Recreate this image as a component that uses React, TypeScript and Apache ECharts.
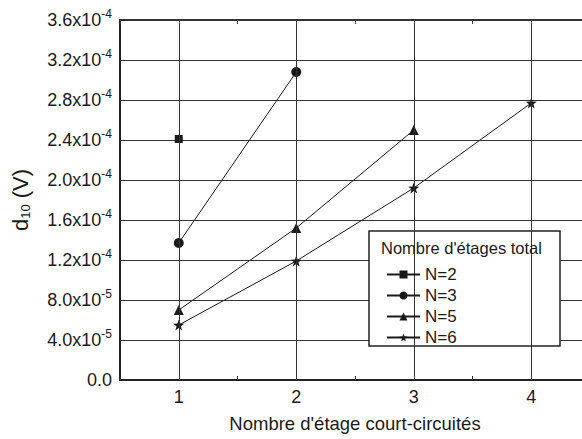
import React, { useEffect, useRef } from "react";
import * as echarts from "echarts";

const xValues = [1, 2, 3, 4];
const seriesNames = ["N=2", "N=3", "N=5", "N=6"];
const n2 = [2.41e-4];
const n3 = [1.37e-4, 3.08e-4];
const n5 = [0.7e-4, 1.52e-4, 2.5e-4];
const n6 = [0.55e-4, 1.19e-4, 1.92e-4, 2.77e-4];
const xTitle = "Nombre d'étage court-circuités";
const legendTitle = "Nombre d'étages total";

const FONT = "'Liberation Sans', Arial, sans-serif";
const INK = "#1a1a1a";
const STAR =
  "path://M0,-10 L2.35,-3.24 L9.51,-3.09 L3.8,1.24 L5.88,8.09 L0,4 L-5.88,8.09 L-3.8,1.24 L-9.51,-3.09 L-2.35,-3.24 Z";

function fmtY(v: number): string {
  if (Math.abs(v) < 1e-12) return "0.0";
  const e = Math.floor(Math.log10(v) + 1e-9);
  const m = v / Math.pow(10, e);
  return `${m.toFixed(1)}x10{sup|${e}}`;
}

function pts(arr: number[]) {
  return arr.map((v, i) => [xValues[i], v]);
}

export default function App() {
  const ref = useRef<HTMLDivElement>(null);
  useEffect(() => {
    if (!ref.current) return;
    const chart = echarts.init(ref.current, null, { renderer: "svg" });
    const symbols = ["rect", "circle", "triangle", STAR];
    const sizes = [8, 10, 10, 11];
    const datas = [n2, n3, n5, n6];
    const series: any[] = datas.map((d, i) => ({
      type: "line",
      name: seriesNames[i],
      data: pts(d),
      symbol: symbols[i],
      symbolSize: sizes[i],
      showAllSymbol: true,
      lineStyle: { color: INK, width: 1 },
      itemStyle: { color: INK },
      z: 3,
    }));
    series[0].markLine = {
      silent: true,
      symbol: "none",
      label: { show: false },
      animation: false,
      lineStyle: { color: "#333", width: 1, type: "solid" },
      data: xValues.map((x) => ({ xAxis: x })),
    };
    chart.setOption({
      animation: false,
      grid: { left: 120, top: 20, width: 470, bottom: 59, outerBoundsMode: "none", containLabel: false },
      xAxis: [
        {
          type: "value",
          min: 0.5,
          max: 4.5,
          interval: 0.5,
          position: "bottom",
          axisLine: { show: true, lineStyle: { color: "#222", width: 2 } },
          axisTick: { show: true, inside: true, length: 4, lineStyle: { color: "#222" } },
          axisLabel: {
            margin: 8,
            fontSize: 18,
            fontFamily: FONT,
            color: INK,
            formatter: (v: number) => (Math.abs(v - Math.round(v)) < 1e-9 ? String(Math.round(v)) : ""),
          },
          splitLine: { show: false },
          name: xTitle,
          nameLocation: "middle",
          nameGap: 34,
          nameTextStyle: { fontSize: 18.5, fontFamily: FONT, color: INK },
        },
        {
          type: "value",
          min: 0.5,
          max: 4.5,
          interval: 0.5,
          position: "top",
          axisLine: { show: true, lineStyle: { color: "#333", width: 2 } },
          axisTick: { show: true, inside: true, length: 4, lineStyle: { color: "#333" } },
          axisLabel: { show: false },
          splitLine: { show: false },
        },
      ],
      yAxis: {
        type: "value",
        min: 0,
        max: 3.6e-4,
        interval: 0.4e-4,
        axisLine: { show: true, lineStyle: { color: "#222", width: 2 } },
        axisTick: { show: true, inside: true, length: 5, lineStyle: { color: "#222" } },
        splitLine: { show: true, lineStyle: { color: "#333", width: 1 } },
        axisLabel: {
          margin: 8,
          fontSize: 18,
          fontFamily: FONT,
          color: INK,
          formatter: fmtY,
          rich: {
            sup: { fontSize: 12, fontFamily: FONT, color: INK, padding: [0, 0, 12, 0] },
          },
        },
        name: "d{sub|10} (V)",
        nameLocation: "middle",
        nameGap: 88,
        nameRotate: 90,
        nameTextStyle: {
          fontSize: 22,
          fontFamily: FONT,
          color: INK,
          rich: {
            sub: { fontSize: 13, fontFamily: FONT, color: INK, padding: [10, 0, 0, 0] },
          },
        },
      },
      legend: {
        show: true,
        orient: "vertical",
        left: 381,
        top: 261,
        itemWidth: 33,
        itemHeight: 10,
        itemGap: 4,
        z: 6,
        data: seriesNames,
        textStyle: { fontSize: 17, fontFamily: FONT, color: INK, lineHeight: 16 },
      },
      graphic: [
        {
          type: "rect",
          z: 5,
          shape: { x: 369, y: 231, width: 191, height: 115 },
          style: { fill: "#fff", stroke: "#222", lineWidth: 1.5 },
        },
        {
          type: "text",
          z: 6,
          x: 381,
          y: 248,
          style: {
            text: legendTitle,
            fontSize: 16.5,
            fontFamily: FONT,
            fill: INK,
            align: "left",
            verticalAlign: "middle",
          },
        },
      ],
      series,
    });
    return () => chart.dispose();
  }, []);
  return (
    <div
      ref={ref}
      style={{ position: "fixed", left: 0, top: 0, width: 582, height: 439, background: "#fff" }}
    />
  );
}
